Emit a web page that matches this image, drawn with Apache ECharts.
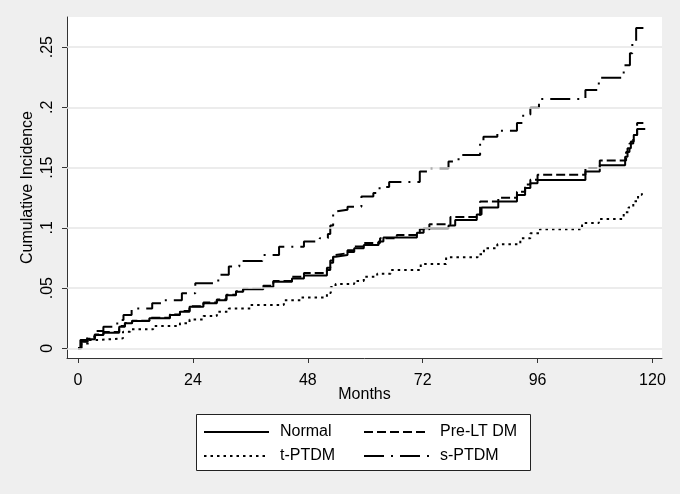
<!DOCTYPE html>
<html>
<head>
<meta charset="utf-8">
<script src="https://cdn.jsdelivr.net/npm/echarts@6/dist/echarts.min.js"></script>
<style>
html,body{margin:0;padding:0;background:#efefef;}
#c{width:680px;height:494px;}
</style>
</head>
<body>
<div id="c"></div>
<script>
// ---- data ----
var seriesNames = ['Normal', 'Pre-LT DM', 't-PTDM', 's-PTDM'];
var xTicks = [0, 24, 48, 72, 96, 120];
var yTicks = [0, 0.05, 0.1, 0.15, 0.2, 0.25];

var normalT = [0,0.7,2,3.5,5.3,8.6,9.8,11.3,14.9,19.2,21.3,23.3,26.2,29,31,33,34.5,38.7,40.8,44.7,47.2,52,52.7,53.3,53.8,56.3,57.7,59.7,62.8,63.8,70.8,72.2,77.4,78.8,83.3,84.3,87.8,91.7,93.4,94.5,96,106,109,114.3,114.8,115.5,116.1,116.8,118.5];
var normalV = [0,0.0055,0.0075,0.011,0.013,0.018,0.0208,0.0227,0.025,0.0277,0.0304,0.0346,0.0374,0.040,0.044,0.047,0.049,0.051,0.0553,0.058,0.0605,0.065,0.071,0.076,0.0775,0.080,0.083,0.0858,0.0886,0.092,0.096,0.0997,0.102,0.1066,0.111,0.117,0.1218,0.1273,0.133,0.137,0.1398,0.1467,0.152,0.159,0.166,0.1716,0.177,0.182,0.182];

var preT = [0,0.7,2,3.5,5.3,8.6,9.8,11.3,14.9,19.2,21.3,23.3,26.2,29,31,33,34.5,38.7,40.8,44.7,47.2,52,52.7,53.3,53.8,56.3,57.7,59.7,63.1,66.6,71.4,73.4,77.8,84,87.8,91.7,93.4,94.5,96,106,109,114.5,115.2,116,116.8,118.5];
var preV = [0,0.006,0.008,0.0115,0.0135,0.0185,0.021,0.023,0.0255,0.028,0.031,0.035,0.038,0.0405,0.0445,0.0475,0.0495,0.052,0.056,0.0595,0.0625,0.067,0.073,0.0775,0.079,0.0815,0.0845,0.0875,0.0914,0.094,0.0988,0.103,0.109,0.1218,0.125,0.130,0.136,0.140,0.144,0.1497,0.156,0.163,0.170,0.177,0.187,0.187];

var tT = [0,0.7,2.3,4.4,9.4,10.9,15.7,21.3,23.3,26.2,29,31.5,36,43,46.5,52,52.8,53.8,57.7,59.7,62.5,65.3,71.6,76.9,83.5,84.8,87.6,92.4,94.5,96.5,105.3,108.8,114,115,116,117,117.8,118.3];
var tV = [0,0.004,0.007,0.0083,0.0138,0.0158,0.0185,0.0208,0.024,0.0268,0.0304,0.033,0.036,0.040,0.0423,0.046,0.051,0.0534,0.056,0.0595,0.062,0.065,0.070,0.0756,0.078,0.083,0.0864,0.0914,0.0955,0.0988,0.104,0.1074,0.113,0.117,0.122,0.1275,0.130,0.130];

var sT = [0,0.5,1.9,3.6,5.3,8.2,9.5,11.2,15.5,17.6,21.7,24.5,29.3,31.5,33.7,38.5,42,47.2,50.5,52.2,52.7,53.3,53.8,56.3,59.2,61.7,63,65,71.4,73.2,77.4,79.5,84,84.7,87.6,91.7,93,94.5,96.3,106,108.8,114,115.3,115.8,116.6,118.5];
var sV = [0,0.007,0.0097,0.0144,0.018,0.0235,0.0277,0.033,0.0374,0.040,0.0457,0.054,0.061,0.068,0.0725,0.0775,0.0844,0.0886,0.0914,0.095,0.102,0.1135,0.115,0.1176,0.126,0.129,0.134,0.138,0.1467,0.1495,0.155,0.1605,0.170,0.1757,0.1807,0.187,0.194,0.1996,0.207,0.2145,0.2245,0.235,0.245,0.254,0.2658,0.2658];

function pairs(t, v) { return t.map(function (x, i) { return [x, v[i]]; }); }

var FONT = '"Liberation Sans", Arial, sans-serif';
var chart = echarts.init(document.getElementById('c'), null, {renderer: 'canvas'});

function mkSeries(name, t, v, dash, z) {
  return {
    name: name, type: 'line', step: 'end', data: pairs(t, v),
    symbol: 'none', showSymbol: false, z: z, animation: false,
    lineStyle: {color: '#000', width: 2, type: dash, cap: 'butt'},
    itemStyle: {color: '#000'}
  };
}

function mkLegend(name, left, top) {
  return {
    data: [name], left: left, top: top, padding: 0, itemGap: 0,
    itemWidth: 65, itemHeight: 14, z: 5,
    itemStyle: {opacity: 0},
    textStyle: {fontFamily: FONT, fontSize: 16, color: '#000', padding: [0, 0, 0, 6], lineHeight: 18},
    selectedMode: false
  };
}

var option = {
  backgroundColor: '#efefef',
  animation: false,
  grid: {left: 67, right: 18, top: 17, bottom: 136, show: true, backgroundColor: '#fff', borderWidth: 0},
  xAxis: {
    type: 'value', min: -2.3, max: 122,
    name: 'Months', nameLocation: 'middle', nameGap: 29, nameMoveOverlap: false,
    nameTextStyle: {fontFamily: FONT, fontSize: 16, color: '#000'},
    axisLine: {show: true, onZero: false, lineStyle: {color: '#333', width: 1}},
    axisTick: {show: true, length: 5, customValues: xTicks, lineStyle: {color: '#333'}},
    axisLabel: {customValues: xTicks, margin: 15, fontFamily: FONT, fontSize: 16, color: '#000'},
    splitLine: {show: false}
  },
  yAxis: {
    type: 'value', min: -0.008, max: 0.275,
    name: 'Cumulative Incidence', nameLocation: 'middle', nameGap: 31, nameMoveOverlap: false,
    nameTextStyle: {fontFamily: FONT, fontSize: 16, color: '#000'},
    axisLine: {show: true, onZero: false, lineStyle: {color: '#333', width: 1}},
    axisTick: {show: true, length: 5, customValues: yTicks, lineStyle: {color: '#333'}},
    axisLabel: {
      customValues: yTicks, rotate: 90, margin: 11, fontFamily: FONT, fontSize: 16, color: '#000',
      formatter: function (v) { return v === 0 ? '0' : String(+v.toFixed(2)).replace(/^0\./, '.'); }
    },
    splitLine: {show: false}
  },
  legend: [
    mkLegend('Normal', 203, 423),
    mkLegend('Pre-LT DM', 363, 423),
    mkLegend('t-PTDM', 203, 447),
    mkLegend('s-PTDM', 363, 447)
  ],
  graphic: [{
    type: 'rect', z: 1, silent: true,
    shape: {x: 196.5, y: 414.5, width: 334, height: 56},
    style: {fill: '#fff', stroke: '#222', lineWidth: 1}
  }],
  series: [
    {
      type: 'line', data: [], z: 1, silent: true,
      markLine: {
        silent: true, symbol: 'none', animation: false,
        label: {show: false},
        lineStyle: {color: '#e6e6e6', width: 1.5, type: 'solid'},
        data: yTicks.map(function (y) { return {yAxis: y}; })
      }
    },
    mkSeries('Normal', normalT, normalV, 'solid', 4),
    mkSeries('Pre-LT DM', preT, preV, [9, 4], 3),
    mkSeries('t-PTDM', tT, tV, [2.5, 4], 3),
    mkSeries('s-PTDM', sT, sV, [20, 7, 2, 7], 3)
  ]
};
chart.setOption(option);
</script>
</body>
</html>
